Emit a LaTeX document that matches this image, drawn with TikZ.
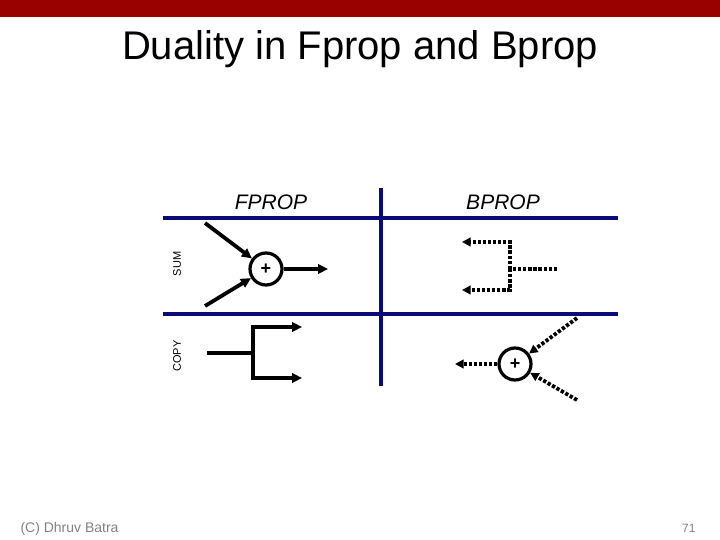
\documentclass[tikz,border=0pt]{standalone}
\usepackage{fontspec}
\setmainfont{Liberation Sans}
\usetikzlibrary{arrows.meta}
\definecolor{barred}{RGB}{153,0,0}
\definecolor{navyline}{RGB}{10,10,120}
\definecolor{footgray}{RGB}{130,130,130}
\tikzset{
  sep/.style={navyline, line width=4.5pt},
  solidarr/.style={line width=3.8pt, line join=miter, -{Triangle[length=10pt,width=9.5pt]}},
  solidline/.style={line width=3.8pt, line join=miter},
  dotline/.style={line width=3.8pt, dash pattern=on 3.3pt off 1.8pt, line join=miter},
  dotarr/.style={dotline, -{Triangle[length=8.5pt,width=8.5pt]}},
  sumnode/.style={circle, draw, line width=3.2pt, minimum size=32pt, inner sep=0pt,
    font=\bfseries\fontsize{18}{18}\selectfont},
  lab/.style={font=\itshape\fontsize{21}{21}\selectfont, anchor=base},
  sidelab/.style={font=\fontsize{11}{11}\selectfont, rotate=90},
}
\begin{document}
\begin{tikzpicture}[x=1pt, y=-1pt]
\useasboundingbox (0,0) rectangle (720,540);
% top bar
\fill[barred] (0,0) rectangle (720,17);
\node[anchor=base, font=\fontsize{40}{40}\selectfont] (title) at (360,60) {Duality in Fprop and Bprop};
% grid lines
\draw[sep] (163,218) -- (618,218);
\draw[sep] (163,314) -- (618,314);
\draw[sep] (381,188) -- (381,386);
% labels
\node[lab] (fprop) at (271,210) {FPROP};
\node[lab] (bprop) at (503,210) {BPROP};
\node[sidelab] (sum) at (177,264) {SUM};
\node[sidelab] (copy) at (177,356) {COPY};
% FPROP sum
\node[sumnode] (s1) at (266,269) {+};
\coordinate (f1) at (205,223);
\coordinate (f2) at (205,306);
\coordinate (fo) at (328,269);
\draw[solidarr] (f1) -- (s1);
\draw[solidarr] (f2) -- (s1);
\draw[solidarr] (s1) -- (fo);
% FPROP copy
\coordinate (c0) at (207,353);
\coordinate (cj) at (253,353);
\coordinate (cuo) at (302,327);
\coordinate (cdo) at (302,378);
\draw[solidline] (c0) -- (cj);
\draw[solidarr] (cj) |- (cuo);
\draw[solidarr] (cj) |- (cdo);
% BPROP copy (reversed)
\coordinate (bi) at (557,269);
\coordinate (bj) at (510,269);
\coordinate (buo) at (462,242);
\coordinate (bdo) at (462,290);
\draw[dotline] (bi) -- (bj);
\draw[dotarr] (bj) |- (buo);
\draw[dotarr] (bj) |- (bdo);
% BPROP sum
\node[sumnode] (s2) at (515,364) {+};
\coordinate (g1) at (577,318);
\coordinate (g2) at (577,400);
\coordinate (go) at (455,364);
\draw[dotarr] (g1) -- (s2);
\draw[dotarr] (g2) -- (s2);
\draw[dotarr] (s2) -- (go);
% footer
\node[anchor=base west, text=footgray, font=\fontsize{14}{14}\selectfont] (foot) at (17,532) {(C) Dhruv Batra};
\node[anchor=base east, text=footgray, font=\fontsize{12}{12}\selectfont] (page) at (699,532) {71};
\end{tikzpicture}
\end{document}
